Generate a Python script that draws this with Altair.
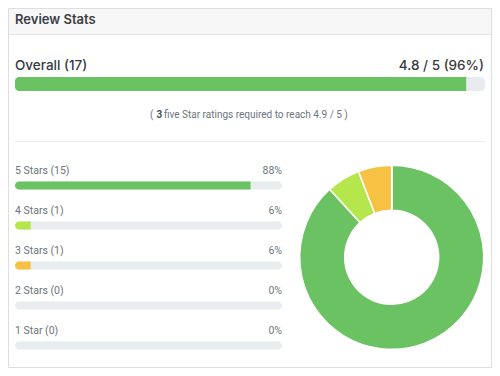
import altair as alt
import pandas as pd

# ---------------- data ----------------
card_title = "Review Stats"
overall_label = "Overall"
overall_count = 17
overall_score = 4.8
overall_max = 5
needed_count = 3
target_score = 4.9

star_labels = ["5 Stars", "4 Stars", "3 Stars", "2 Stars", "1 Star"]
star_values = [5, 4, 3, 2, 1]
star_counts = [15, 1, 1, 0, 0]
star_colors = ["#6bc262", "#b5e64b", "#f7c244", "#f49c3c", "#e8584a"]

# ---------------- styling ----------------
FONT = "Roboto"
HFONT = "Inter"
W, H = 484, 360
TRACK = "#e9ecef"
GREEN = "#6bc262"

total = sum(star_counts)
stars = pd.DataFrame({
    "label": star_labels,
    "stars": star_values,
    "count": star_counts,
    "pct": [100 * c / total for c in star_counts],
    "full": [100] * len(star_labels),
    "title": [f"{l} ({c})" for l, c in zip(star_labels, star_counts)],
    "pct_text": [f"{round(100 * c / total)}%" for c in star_counts],
})
overall = pd.DataFrame({
    "name": [overall_label],
    "score": [overall_score],
    "max": [overall_max],
    "title": [f"{overall_label} ({overall_count})"],
    "value_text": [f"{overall_score} / {overall_max} ({round(100 * overall_score / overall_max)}%)"],
})
note = pd.DataFrame({
    "a": ["("],
    "b": [str(needed_count)],
    "c": [f"five Star ratings required to reach {target_score} / {overall_max} )"],
})
one = pd.DataFrame({"t": [card_title]})

# ---------------- card frame ----------------
card = alt.Chart(one).mark_rect(fill="white", stroke="#dedede", strokeWidth=1).encode(
    x=alt.value(0.5), x2=alt.value(W - 0.5), y=alt.value(0.5), y2=alt.value(H - 0.5))
header_bg = alt.Chart(one).mark_rect(fill="#f7f7f7").encode(
    x=alt.value(1), x2=alt.value(W - 1), y=alt.value(1), y2=alt.value(26))
header_line = alt.Chart(one).mark_rule(color="#e4e4e4", strokeWidth=1).encode(
    x=alt.value(1), x2=alt.value(W - 1), y=alt.value(26.5))
header_text = alt.Chart(one).mark_text(
    align="left", baseline="alphabetic", font=HFONT, fontSize=13, fontWeight=600, color="#3b4045"
).encode(x=alt.value(7), y=alt.value(16), text="t:N")

# ---------------- overall ----------------
ov_x = alt.Scale(domain=[0, overall_max], range=[7, 477])
ov_y = alt.Scale(type="band", domain=[overall_label], range=[69, 83], paddingInner=0, paddingOuter=0)
ov_track = alt.Chart(overall).mark_bar(color=TRACK, cornerRadius=4).encode(
    x=alt.X("max:Q", scale=ov_x, axis=None, stack=None),
    y=alt.Y("name:N", scale=ov_y, axis=None))
ov_fill = alt.Chart(overall).mark_bar(color=GREEN, cornerRadiusTopLeft=4, cornerRadiusBottomLeft=4).encode(
    x=alt.X("score:Q", scale=ov_x, axis=None, stack=None),
    y=alt.Y("name:N", scale=ov_y, axis=None))
ov_title = alt.Chart(overall).mark_text(
    align="left", baseline="alphabetic", font=HFONT, fontSize=13.5, fontWeight=500, color="#343a40"
).encode(x=alt.value(7), y=alt.value(62), text="title:N")
ov_value = alt.Chart(overall).mark_text(
    align="right", baseline="alphabetic", font=HFONT, fontSize=13.5, fontWeight=500, color="#343a40"
).encode(x=alt.value(476), y=alt.value(62), text="value_text:N")

# ---------------- note ----------------
note_style = dict(baseline="alphabetic", font=FONT, fontSize=10, color="#6c757d")
note_a = alt.Chart(note).mark_text(align="left", **note_style).encode(
    x=alt.value(142), y=alt.value(109.5), text="a:N")
note_b = alt.Chart(note).mark_text(align="left", fontWeight="bold", **{**note_style, "color": "#495057"}).encode(
    x=alt.value(148.5), y=alt.value(109.5), text="b:N")
note_c = alt.Chart(note).mark_text(align="left", **note_style).encode(
    x=alt.value(156), y=alt.value(109.5), text="c:N")
sep = alt.Chart(one).mark_rule(color="#e9e9e9", strokeWidth=1).encode(
    x=alt.value(7), x2=alt.value(477), y=alt.value(133.5))

# ---------------- star rows ----------------
st_x = alt.Scale(domain=[0, 100], range=[7, 274])
st_y = alt.Scale(type="band", domain=star_labels, range=[173.5, 341.5], paddingInner=0.8, paddingOuter=0)
st_color = alt.Scale(domain=star_labels, range=star_colors)
st_track = alt.Chart(stars).mark_bar(color=TRACK, cornerRadius=4).encode(
    x=alt.X("full:Q", scale=st_x, axis=None, stack=None),
    y=alt.Y("label:N", scale=st_y, axis=None))
st_fill = alt.Chart(stars).mark_bar(cornerRadiusTopLeft=4, cornerRadiusBottomLeft=4).encode(
    x=alt.X("pct:Q", scale=st_x, axis=None, stack=None),
    y=alt.Y("label:N", scale=st_y, axis=None),
    color=alt.Color("label:N", scale=st_color, legend=None))
lab_style = dict(baseline="alphabetic", font=FONT, fontSize=10.5, color="#6c757d", dy=-12)
st_title = alt.Chart(stars).mark_text(align="left", **lab_style).encode(
    x=alt.value(7), y=alt.Y("label:N", scale=st_y, axis=None), text="title:N")
st_pct = alt.Chart(stars).mark_text(align="right", **lab_style).encode(
    x=alt.value(274), y=alt.Y("label:N", scale=st_y, axis=None), text="pct_text:N")

# ---------------- donut ----------------
donut = alt.Chart(stars).mark_arc(innerRadius=47, outerRadius=92, stroke="white", strokeWidth=1.5).encode(
    theta=alt.Theta("count:Q", stack=True),
    color=alt.Color("label:N", scale=st_color, legend=None),
    order=alt.Order("stars:Q", sort="descending"),
    x=alt.value(383.7), y=alt.value(249.3))

chart = alt.layer(
    card, header_bg, header_line, header_text,
    ov_track, ov_fill, ov_title, ov_value,
    note_a, note_b, note_c, sep,
    st_track, st_fill, st_title, st_pct,
    donut,
).resolve_scale(
    x="independent", y="independent", color="independent", theta="independent"
).properties(
    width=W, height=H, padding=0, autosize=alt.AutoSizeParams(type="none"), background="white"
).configure_view(stroke=None)

chart.save("out.html", embed_options={"renderer": "svg", "actions": False})
